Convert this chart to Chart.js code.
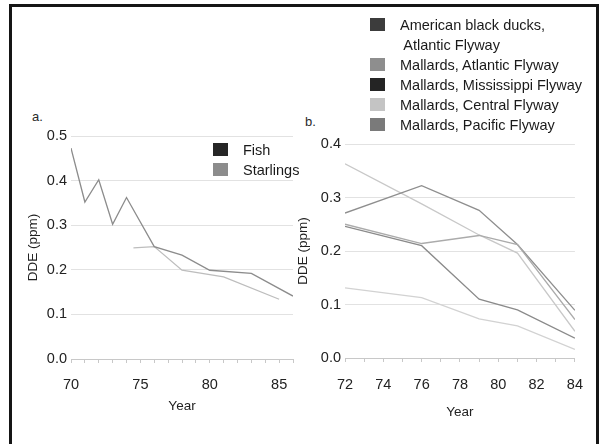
<!DOCTYPE html>
<html lang="en">
<head>
    <meta charset="UTF-8">
    <title>DDE in fish, starlings and ducks</title>
    <style>
        body { margin: 0; width: 603px; height: 444px; overflow: hidden; background: #fff;
               font-family: "Liberation Sans", Arial, sans-serif; color: #222; }
        .frame { position: absolute; left: 9px; top: 4px; width: 584px; height: 500px;
                 border: 3px solid #151515; border-bottom: none; }
        .box { position: absolute; }
        .tag { position: absolute; font-size: 13px; color: #2a2a2a; }
        .legend { position: absolute; font-size: 14.5px; line-height: 20px; color: #1a1a1a; }
        .legend .row { position: relative; padding-left: 30px; white-space: pre; }
        .legend .sw { position: absolute; left: 0; top: 3px; width: 15px; height: 13px; }
    </style>
</head>
<body>
    <div class="frame"></div>

    <div class="tag" style="left:32px; top:109px;">a.</div>
    <div class="tag" style="left:305px; top:114px;">b.</div>

    <!-- canvases are a bit wider than the plots: chart.js adds tick padding on the right -->
    <div class="box" style="left:0px; top:100px; width:306px; height:320px;"><canvas id="chartA"></canvas></div>
    <div class="box" style="left:290px; top:100px; width:307px; height:320px;"><canvas id="chartB"></canvas></div>

    <div class="legend" id="legendA" style="left:213px; top:140px;"></div>
    <div class="legend" id="legendB" style="left:370px; top:15px;"></div>

<script src="https://cdn.jsdelivr.net/npm/chart.js@4.4.0/dist/chart.umd.min.js"></script>
<script>
    // panel a: DDE in fish and starlings
    var fishYears = [70, 71, 72, 73, 74, 76, 78, 80, 83, 86];
    var fishDDE = [0.473, 0.352, 0.402, 0.302, 0.362, 0.252, 0.233, 0.199, 0.192, 0.141];
    var starlingYears = [74.5, 76, 78, 81, 85];
    var starlingDDE = [0.249, 0.252, 0.199, 0.184, 0.134];

    // panel b: DDE in duck wings
    var duckYears = [72, 76, 79, 81, 84];
    var blackDucksAtlantic = [0.246, 0.21, 0.11, 0.09, 0.037];
    var mallardsAtlantic = [0.25, 0.214, 0.229, 0.212, 0.072];
    var mallardsMississippi = [0.271, 0.322, 0.276, 0.212, 0.089];
    var mallardsCentral = [0.363, 0.288, 0.23, 0.196, 0.05];
    var mallardsPacific = [0.131, 0.113, 0.073, 0.06, 0.016];

    var labelsA = ['Fish', 'Starlings'];
    var labelsB = ['American black ducks,\n Atlantic Flyway', 'Mallards, Atlantic Flyway',
                   'Mallards, Mississippi Flyway', 'Mallards, Central Flyway', 'Mallards, Pacific Flyway'];
    var swatchA = ['#262626', '#8c8c8c'];
    var swatchB = ['#3c3c3c', '#8e8e8e', '#242424', '#c4c4c4', '#7a7a7a'];
    var lineA = ['#8c8c8c', '#bdbdbd'];
    var lineB = ['#8a8a8a', '#ababab', '#8e8e8e', '#c8c8c8', '#d2d2d2'];

    Chart.defaults.font.family = '"Liberation Sans", Arial, sans-serif';
    Chart.defaults.color = '#222';

    function pts(xs, ys) {
        return xs.map(function (x, i) { return {x: x, y: ys[i]}; });
    }

    function buildLegend(id, labels, colors) {
        var el = document.getElementById(id);
        labels.forEach(function (t, i) {
            var row = document.createElement('div');
            row.className = 'row';
            row.textContent = t;
            var sw = document.createElement('span');
            sw.className = 'sw';
            sw.style.background = colors[i];
            row.appendChild(sw);
            el.appendChild(row);
        });
    }

    function makeChart(id, datasets, o) {
        return new Chart(document.getElementById(id), {
            type: 'line',
            data: {datasets: datasets},
            options: {
                responsive: true,
                maintainAspectRatio: false,
                animation: false,
                layout: {padding: {top: o.padTop, right: 0, left: 0, bottom: 0}},
                plugins: {legend: {display: false}, tooltip: {enabled: false}},
                elements: {point: {radius: 0}, line: {borderWidth: 1.3, tension: 0}},
                scales: {
                    x: {
                        type: 'linear', min: o.xMin, max: o.xMax,
                        afterFit: function (s) { s.height = o.xHeight; },
                        border: {display: true, color: '#c8c8c8'},
                        grid: {drawOnChartArea: false, tickLength: 4, color: '#c8c8c8'},
                        ticks: {
                            stepSize: 1, autoSkip: false, maxRotation: 0, padding: o.xTickPad,
                            font: {size: 14.5},
                            callback: function (v) { return v % o.xLabelStep === 0 ? v : ''; }
                        },
                        title: {display: true, text: 'Year', font: {size: 13.5},
                                padding: {top: 0, bottom: o.titleBottom}}
                    },
                    y: {
                        min: 0, max: o.yMax,
                        afterFit: function (s) { s.width = o.yWidth; },
                        border: {display: false},
                        grid: {drawTicks: false, color: '#e2e2e2'},
                        ticks: {stepSize: 0.1, padding: 4, font: {size: 14.5},
                                callback: function (v) { return v.toFixed(1); }},
                        title: {display: true, text: 'DDE (ppm)', font: {size: 13.5},
                                padding: {top: o.yTitlePad, bottom: 0}}
                    }
                }
            }
        });
    }

    makeChart('chartA', [
        {label: labelsA[0], data: pts(fishYears, fishDDE), borderColor: lineA[0]},
        {label: labelsA[1], data: pts(starlingYears, starlingDDE), borderColor: lineA[1]}
    ], {padTop: 36, xMin: 70, xMax: 86, xLabelStep: 5, xHeight: 61, xTickPad: 13,
        yWidth: 71, yMax: 0.5, titleBottom: 6, yTitlePad: 25});

    var duckSeries = [blackDucksAtlantic, mallardsAtlantic, mallardsMississippi, mallardsCentral, mallardsPacific];
    makeChart('chartB', duckSeries.map(function (s, i) {
        return {label: labelsB[i], data: pts(duckYears, s), borderColor: lineB[i]};
    }), {padTop: 44, xMin: 72, xMax: 84, xLabelStep: 2, xHeight: 62, xTickPad: 14,
         yWidth: 55, yMax: 0.4, titleBottom: 0, yTitlePad: 5});

    buildLegend('legendA', labelsA, swatchA);
    buildLegend('legendB', labelsB, swatchB);
</script>
</body>
</html>
